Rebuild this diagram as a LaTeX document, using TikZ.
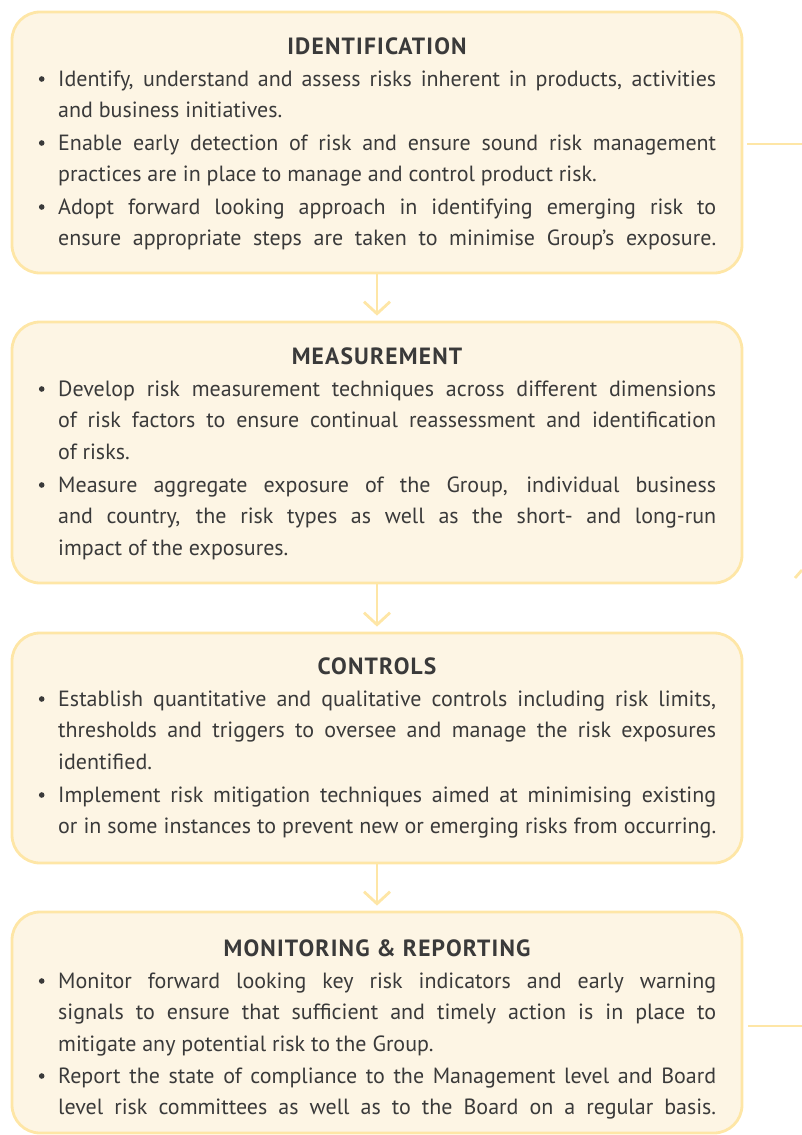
\documentclass[tikz,border=0pt]{standalone}
\usepackage{fontspec}
\setmainfont{PT Sans}
\newfontfamily\headfont[LetterSpace=5]{PT Sans}
\usetikzlibrary{arrows.meta}
\definecolor{boxfill}{HTML}{FDF5E4}
\definecolor{boxline}{HTML}{FEE6A6}
\definecolor{txt}{HTML}{3A3A3A}
\tikzset{
  box/.style={draw=boxline, fill=boxfill, line width=2.8pt, rounded corners=28pt,
    minimum width=730pt, inner sep=0pt},
  head/.style={anchor=base, inner sep=0pt, text=txt, font=\headfont\fontsize{23.5}{31.8}\selectfont\bfseries},
  para/.style={anchor=base west, inner sep=0pt, text=txt, text width=658pt, align=justify,
    font=\fontsize{22}{31.8}\selectfont},
  full/.style={execute at begin node={\parfillskip=0pt}},
  bul/.style={fill=txt, draw=none, circle, inner sep=0pt, minimum size=5.6pt},
  arr/.style={draw=boxline, line width=2.8pt, -{Straight Barb[length=12pt,width=26pt]}, shorten >=5pt},
  conn/.style={draw=boxline, line width=2.8pt}
}
\begin{document}
\begin{tikzpicture}[x=1pt,y=-1pt]
\useasboundingbox (0,0) rectangle (802,1135);
% boxes
\node[box, minimum height=261pt] (b1) at (377,142.5) {};
\node[box, minimum height=261pt] (b2) at (377,452.5) {};
\node[box, minimum height=230pt] (b3) at (377,748) {};
\node[box, minimum height=221pt] (b4) at (377,1022.5) {};
% connectors
\draw[arr] (b1.south) -- (b2.north);
\draw[arr] (b2.south) -- (b3.north);
\draw[arr] (b3.south) -- (b4.north);
\coordinate (r1) at (802,144);
\coordinate (r4) at (802,1026);
\draw[conn] ([xshift=4pt]b1.east |- r1) -- (r1);
\draw[conn] ([xshift=5pt]b4.east |- r4) -- (r4);
\draw[conn] (795,578) -- (802,570);
% box 1
\node[head] (h1) at (377,54) {IDENTIFICATION};
\node[bul] (u11) at (41.7,79) {};
\node[para] (p11) at (58,86) {Identify, understand and assess risks inherent in products, activities\linebreak and business initiatives.};
\node[bul] (u12) at (41.7,143) {};
\node[para] (p12) at (58,150) {Enable early detection of risk and ensure sound risk management\linebreak practices are in place to manage and control product risk.};
\node[bul] (u13) at (41.7,207) {};
\node[para, full] (p13) at (58,214) {Adopt forward looking approach in identifying emerging risk to\linebreak ensure appropriate steps are taken to minimise Group’s exposure.};
% box 2
\node[head] (h2) at (377,364) {MEASUREMENT};
\node[bul] (u21) at (41.7,389) {};
\node[para] (p21) at (58,396) {Develop risk measurement techniques across different dimensions\linebreak of risk factors to ensure continual reassessment and identification\linebreak of risks.};
\node[bul] (u22) at (41.7,485) {};
\node[para] (p22) at (58,492) {Measure aggregate exposure of the Group, individual business\linebreak and country, the risk types as well as the short- and long-run\linebreak impact of the exposures.};
% box 3
\node[head] (h3) at (377,674) {CONTROLS};
\node[bul] (u31) at (41.7,699) {};
\node[para] (p31) at (58,706) {Establish quantitative and qualitative controls including risk limits,\linebreak thresholds and triggers to oversee and manage the risk exposures\linebreak identified.};
\node[bul] (u32) at (41.7,795) {};
\node[para, full] (p32) at (58,802) {Implement risk mitigation techniques aimed at minimising existing\linebreak or in some instances to prevent new or emerging risks from occurring.};
% box 4
\node[head] (h4) at (377,956) {MONITORING \& REPORTING};
\node[bul] (u41) at (41.7,981) {};
\node[para] (p41) at (58,988) {Monitor forward looking key risk indicators and early warning\linebreak signals to ensure that sufficient and timely action is in place to\linebreak mitigate any potential risk to the Group.};
\node[bul] (u42) at (41.7,1076) {};
\node[para, full] (p42) at (58,1083) {Report the state of compliance to the Management level and Board\linebreak level risk committees as well as to the Board on a regular basis.};
\end{tikzpicture}
\end{document}
